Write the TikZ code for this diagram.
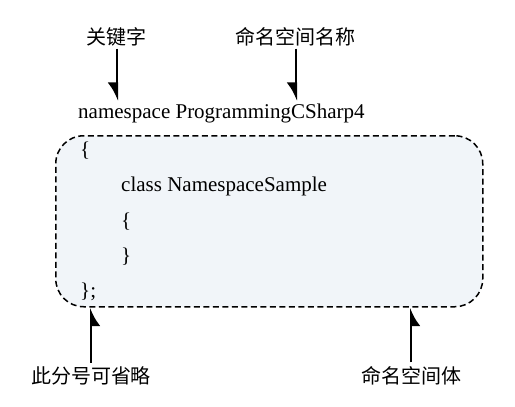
\documentclass[tikz,border=0pt]{standalone}
\usepackage{fontspec}
\setmainfont{Liberation Serif}
\newfontfamily\cjk{Noto Sans CJK SC}
\usetikzlibrary{arrows.meta}
\definecolor{bodyfill}{RGB}{241,245,249}
\begin{document}
\begin{tikzpicture}[x=1pt,y=-1pt,
  code/.style={font=\fontsize{21}{25}\selectfont, inner sep=0pt, anchor=base west},
  lab/.style={font=\cjk\fontsize{20}{24}\selectfont, inner sep=2pt},
  pointer/.style={line width=2pt, -{Latex[right,length=16pt,width=19pt]}},
  body/.style={draw, dash pattern=on 6pt off 3.5pt, line width=1.5pt, rounded corners=28pt, fill=bodyfill}]
\useasboundingbox (0,0) rectangle (515,407);
\node[body, minimum width=427pt, minimum height=171pt, anchor=north west, inner sep=0pt] (box) at (55,135) {};
\node[code] (ns) at (78,118) {namespace ProgrammingCSharp4};
\node[code] (ob) at (80,156) {\{};
\node[code] (cls) at (121,191) {class NamespaceSample};
\node[code] (ib) at (121,227) {\{};
\node[code] (cb) at (121,262) {\}};
\node[code] (eb) at (80,297) {\};};
\node[lab] (kw) at (116,37) {关键字};
\node[lab] (nm) at (295,37) {命名空间名称};
\node[lab] (semi) at (91,376) {此分号可省略};
\node[lab] (bd) at (411,376) {命名空间体};
\coordinate (kwtip) at (117,101);
\coordinate (nmtip) at (296,101);
\draw[pointer] (kw.south -| kwtip) -- (kwtip);
\draw[pointer] (nm.south -| nmtip) -- (nmtip);
\draw[pointer] ([yshift=2pt]semi.north) -- (semi.north |- box.south);
\draw[pointer] ([yshift=2pt]bd.north) -- (bd.north |- box.south);
\end{tikzpicture}
\end{document}
